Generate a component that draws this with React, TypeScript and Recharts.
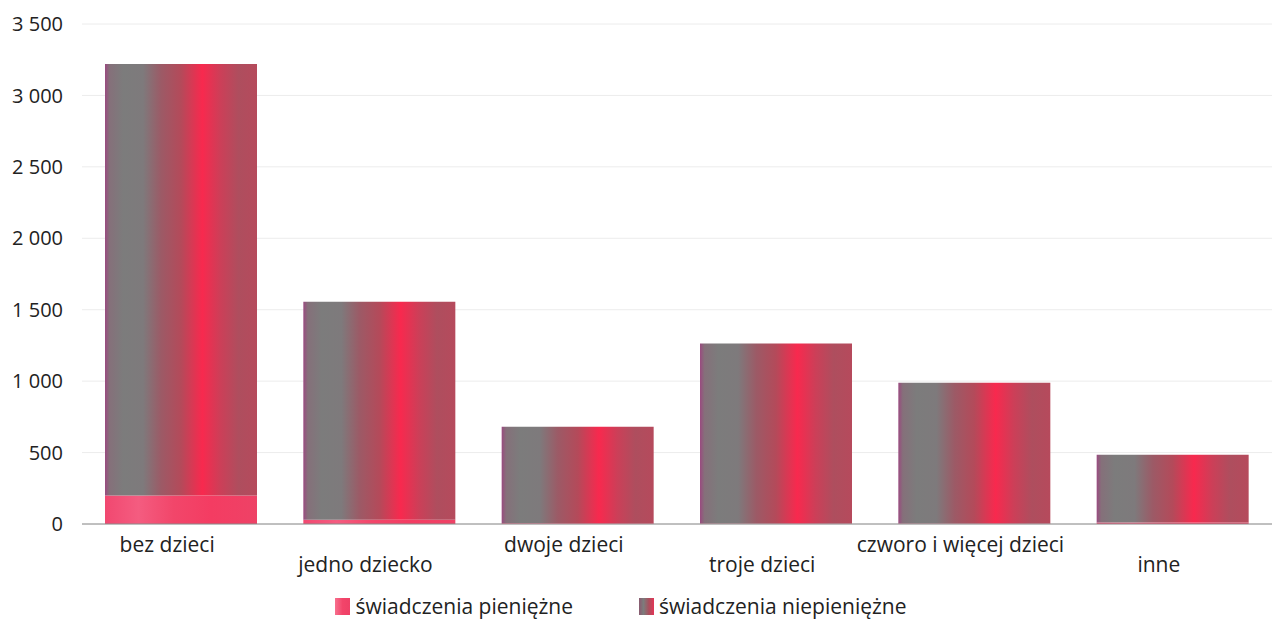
import { Bar, BarChart, CartesianGrid, Legend, XAxis, YAxis } from 'recharts';

const categories = ['bez dzieci', 'jedno dziecko', 'dwoje dzieci', 'troje dzieci', 'czworo i więcej dzieci', 'inne'];
const cashBenefits = [200, 30, 5, 3, 3, 10];
const nonCashBenefits = [3020, 1525, 675, 1260, 985, 475];
const yTicks = [0, 500, 1000, 1500, 2000, 2500, 3000, 3500];

const seriesNames = {
  cash: 'świadczenia pieniężne',
  nonCash: 'świadczenia niepieniężne',
};

const data = categories.map((name, i) => ({
  name,
  cash: cashBenefits[i],
  nonCash: nonCashBenefits[i],
}));

const FONT = '"Open Sans", sans-serif';

function formatThousands(value: number): string {
  return String(value).replace(/\B(?=(\d{3})+(?!\d))/g, ' ');
}

// labels alternate between two rows, like in the source report
function StaggeredTick(props: any) {
  const { x, y, payload, index } = props;
  const lower = index % 2 === 1;
  return (
    <text
      x={x - 14}
      y={y + (lower ? 48 : 28)}
      textAnchor="middle"
      fill="#222"
      fontSize={21}
      fontFamily={FONT}
    >
      {payload.value}
    </text>
  );
}

function LegendSwatches() {
  return (
    <div
      style={{
        display: 'flex',
        justifyContent: 'center',
        gap: 66,
        fontFamily: FONT,
        fontSize: 21,
        color: '#222',
        height: 24,
        alignItems: 'center',
        paddingRight: 30,
      }}
    >
      <div style={{ display: 'flex', alignItems: 'center', gap: 5 }}>
        <span
          style={{
            display: 'inline-block',
            width: 15,
            height: 17,
            background: 'linear-gradient(to right, #f7708e, #f2456a 50%, #ee4066)',
          }}
        />
        {seriesNames.cash}
      </div>
      <div style={{ display: 'flex', alignItems: 'center', gap: 5 }}>
        <span
          style={{
            display: 'inline-block',
            width: 15,
            height: 17,
            background: 'linear-gradient(to right, #8a5a70, #7c7c7c 30%, #a8505e 65%, #e43556)',
          }}
        />
        {seriesNames.nonCash}
      </div>
    </div>
  );
}

export default function App() {
  return (
    <div style={{ position: 'absolute', left: 0, top: 0, width: 1272, height: 621, background: '#fff' }}>
      <BarChart
        width={1272}
        height={621}
        data={data}
        margin={{ top: 24, right: 0, bottom: 3, left: 0 }}
      >
        <defs>
          <linearGradient id="nonCashFill" x1="0" y1="0" x2="1" y2="0">
            <stop offset="0%" stopColor="#9a4a80" />
            <stop offset="3%" stopColor="#85707a" />
            <stop offset="12%" stopColor="#7c7c7c" />
            <stop offset="25%" stopColor="#7e7a7c" />
            <stop offset="37%" stopColor="#9c5a66" />
            <stop offset="50%" stopColor="#b44a5a" />
            <stop offset="64%" stopColor="#f8294e" />
            <stop offset="76%" stopColor="#cc3f58" />
            <stop offset="88%" stopColor="#ae4e5e" />
            <stop offset="100%" stopColor="#b64a5c" />
          </linearGradient>
          <linearGradient id="cashFill" x1="0" y1="0" x2="1" y2="0">
            <stop offset="0%" stopColor="#f14870" />
            <stop offset="22%" stopColor="#f45c80" />
            <stop offset="45%" stopColor="#f2466a" />
            <stop offset="70%" stopColor="#f43c62" />
            <stop offset="100%" stopColor="#ee4266" />
          </linearGradient>
        </defs>
        <CartesianGrid vertical={false} stroke="#ececec" />
        <XAxis
          dataKey="name"
          interval={0}
          height={70}
          tickSize={0}
          tickMargin={0}
          tickLine={false}
          axisLine={{ stroke: '#8a8a8a' }}
          tick={<StaggeredTick />}
        />
        <YAxis
          width={82}
          domain={[0, 3500]}
          ticks={yTicks}
          tickSize={0}
          tickMargin={19}
          tickLine={false}
          axisLine={false}
          tickFormatter={formatThousands}
          tick={{ fill: '#222', fontSize: 20, fontFamily: FONT }}
        />
        <Legend verticalAlign="bottom" height={24} content={<LegendSwatches />} />
        <Bar
          dataKey="cash"
          name={seriesNames.cash}
          stackId="a"
          fill="url(#cashFill)"
          barSize={152}
          isAnimationActive={false}
        />
        <Bar
          dataKey="nonCash"
          name={seriesNames.nonCash}
          stackId="a"
          fill="url(#nonCashFill)"
          barSize={152}
          isAnimationActive={false}
        />
      </BarChart>
    </div>
  );
}
